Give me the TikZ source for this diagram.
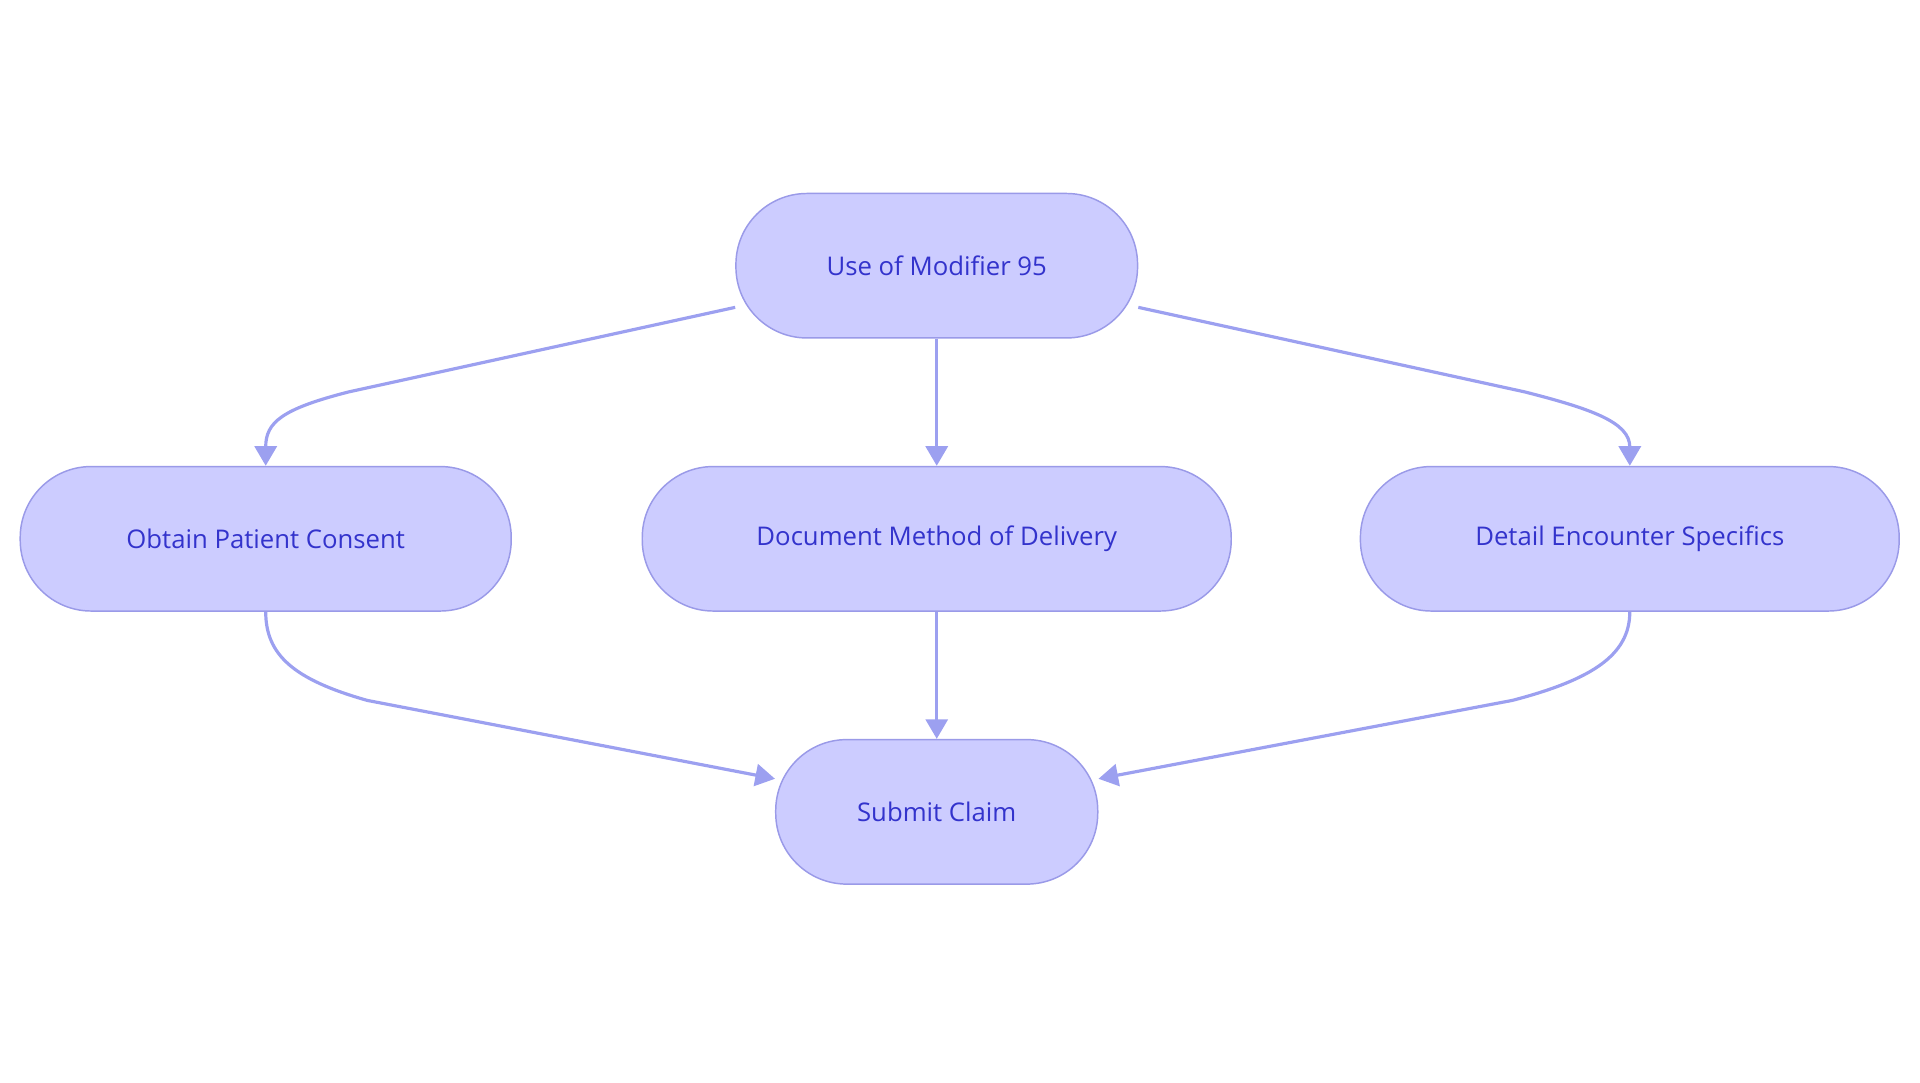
\documentclass[tikz,border=0pt]{standalone}
\usepackage{fontspec}
\setmainfont{Open Sans}
\usetikzlibrary{arrows.meta}
\definecolor{boxfill}{HTML}{CCCCFF}
\definecolor{boxline}{HTML}{9A9AE8}
\definecolor{boxtext}{HTML}{3333CC}
\definecolor{arrowcol}{HTML}{9CA0F0}
\tikzset{
  stage/.style={draw=boxline, line width=1.2pt, fill=boxfill, text=boxtext,
    rounded corners=58pt, minimum height=118pt, font=\fontsize{21}{25}\selectfont},
  flow/.style={draw=arrowcol, line width=2.6pt, -{Triangle[length=16pt,width=18pt]}}
}
\begin{document}
\begin{tikzpicture}[x=1pt,y=-1pt]
\useasboundingbox (0,0) rectangle (1568,884);
\node[stage, minimum width=328pt] (modifier) at (765,217) {Use of Modifier 95};
\node[stage, minimum width=401pt] (consent) at (217,440) {Obtain Patient Consent};
\node[stage, minimum width=481pt] (delivery) at (765,440) {Document Method of Delivery};
\node[stage, minimum width=440pt] (specifics) at (1331,440) {Detail Encounter Specifics};
\node[stage, minimum width=263pt] (claim) at (765,663) {Submit Claim};
% top row
\draw[flow] ([yshift=-34pt]modifier.west) -- (285,320) .. controls (230,334) and (217,345) .. (consent.north);
\draw[flow] (modifier) -- (delivery);
\draw[flow] ([yshift=-34pt]modifier.east) -- (1245,320) .. controls (1300,334) and (1331,345) .. (specifics.north);
% bottom row
\draw[flow] (consent.south) .. controls (217,535) and (240,555) .. (300,572) -- ([yshift=27pt]claim.west);
\draw[flow] (delivery) -- (claim);
\draw[flow] (specifics.south) .. controls (1331,535) and (1300,555) .. (1235,572) -- ([yshift=27pt]claim.east);
\end{tikzpicture}
\end{document}
